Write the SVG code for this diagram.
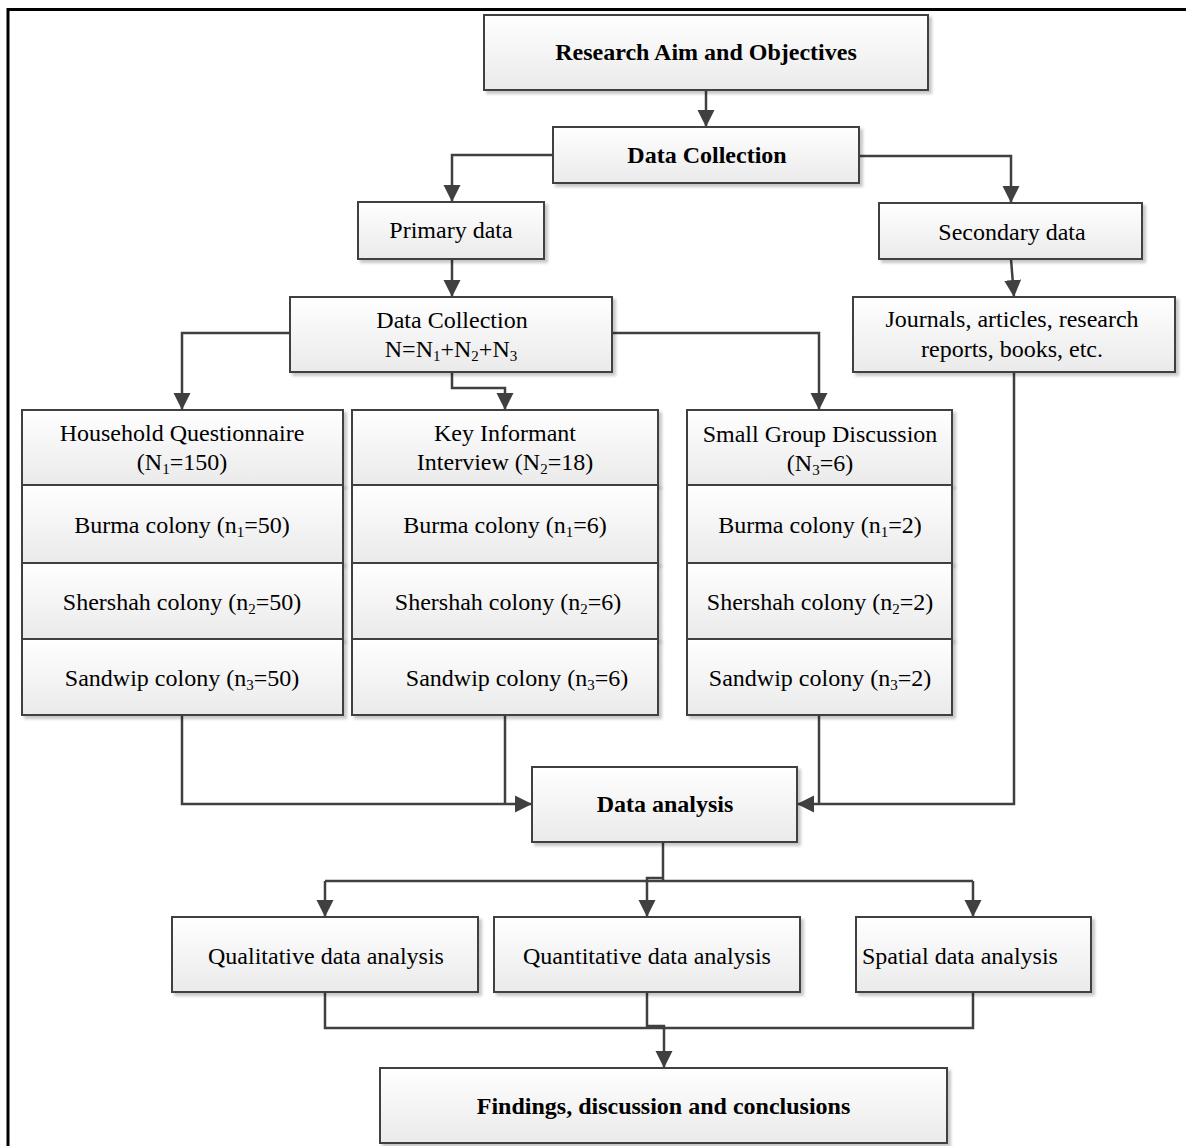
<svg xmlns="http://www.w3.org/2000/svg" width="1186" height="1146" viewBox="0 0 1186 1146">
<defs>
<linearGradient id="g" x1="0" y1="0" x2="0" y2="1"><stop offset="0" stop-color="#ffffff"/><stop offset="1" stop-color="#eaeaea"/></linearGradient>
<filter id="sh" x="-5%" y="-10%" width="115%" height="130%"><feDropShadow dx="3" dy="3" stdDeviation="1.5" flood-color="#000" flood-opacity="0.22"/></filter>
<marker id="ah" markerUnits="userSpaceOnUse" markerWidth="18" markerHeight="18" viewBox="0 0 18 18" refX="17" refY="9" orient="auto"><path d="M0,0.5 L17,9 L0,17.5 z" fill="#404040"/></marker>
</defs>
<style>
.box{fill:url(#g);stroke:#404040;stroke-width:2;filter:url(#sh)}
.t{font-family:"Liberation Serif","Times New Roman",serif;font-size:24px;fill:#000;text-anchor:middle}
.b{font-weight:bold}
.c{fill:none;stroke:#404040;stroke-width:2.5}
.a{marker-end:url(#ah)}
.sub{font-size:15px}
</style>
<rect x="0" y="0" width="1186" height="1146" fill="#fff"/>
<path d="M8,1146 V9.5 H1186" fill="none" stroke="#000" stroke-width="3"/>

<g id="connectors">
<path class="c a" d="M706,90 V127"/>
<path class="c a" d="M553,155 H452 V202"/>
<path class="c a" d="M859,156 H1011 V203"/>
<path class="c a" d="M452,259 V297"/>
<path class="c a" d="M1011,259 L1014,297"/>
<path class="c a" d="M290,333 H182 V410"/>
<path class="c a" d="M452,372 V388 H505 V410"/>
<path class="c a" d="M612,333 H819 V410"/>
<path class="c a" d="M182,715 V804 H532"/>
<path class="c" d="M505,715 V804"/>
<path class="c a" d="M1014,372 V804 H797"/>
<path class="c" d="M819,715 V804"/>
<path class="c" d="M663,842 V881"/>
<path class="c" d="M325,881 H973"/>
<path class="c a" d="M325,881 V917"/>
<path class="c a" d="M973,881 V917"/>
<path class="c a" d="M663,878 H647 V917"/>
<path class="c" d="M325,992 V1028 H973 V992"/>
<path class="c" d="M647,992 V1028"/>
<path class="c a" d="M647,1026 H664 V1068"/>
</g>

<g id="research"><rect class="box" x="484" y="15" width="444" height="75"/><text class="t b" x="706" y="60">Research Aim and Objectives</text></g>
<g id="datacollection"><rect class="box" x="553" y="127" width="306" height="56"/><text class="t b" x="707" y="163">Data Collection</text></g>
<g id="primary"><rect class="box" x="358" y="202" width="186" height="57"/><text class="t" x="451" y="238">Primary data</text></g>
<g id="secondary"><rect class="box" x="879" y="203" width="263" height="56"/><text class="t" x="1012" y="240">Secondary data</text></g>
<g id="datacollection2"><rect class="box" x="290" y="297" width="322" height="75"/><text class="t" x="452" y="328">Data Collection</text><text class="t" x="451" y="357">N=N<tspan class="sub" dy="4">1</tspan><tspan dy="-4">+N</tspan><tspan class="sub" dy="4">2</tspan><tspan dy="-4">+N</tspan><tspan class="sub" dy="4">3</tspan></text></g>
<g id="journals"><rect class="box" x="853" y="297" width="322" height="75"/><text class="t" x="1012" y="327">Journals, articles, research</text><text class="t" x="1012" y="357">reports, books, etc.</text></g>

<g id="hq-head"><rect class="box" x="22" y="410" width="321" height="75"/><text class="t" x="182" y="441">Household Questionnaire</text><text class="t" x="182" y="470">(N<tspan class="sub" dy="4">1</tspan><tspan dy="-4">=150)</tspan></text></g>
<g id="hq-burma"><rect class="box" x="22" y="485" width="321" height="78"/><text class="t" x="182" y="533">Burma colony (n<tspan class="sub" dy="4">1</tspan><tspan dy="-4">=50)</tspan></text></g>
<g id="hq-shershah"><rect class="box" x="22" y="563" width="321" height="76"/><text class="t" x="182" y="610">Shershah colony (n<tspan class="sub" dy="4">2</tspan><tspan dy="-4">=50)</tspan></text></g>
<g id="hq-sandwip"><rect class="box" x="22" y="639" width="321" height="76"/><text class="t" x="182" y="686">Sandwip colony (n<tspan class="sub" dy="4">3</tspan><tspan dy="-4">=50)</tspan></text></g>

<g id="ki-head"><rect class="box" x="352" y="410" width="306" height="75"/><text class="t" x="505" y="441">Key Informant</text><text class="t" x="505" y="470">Interview (N<tspan class="sub" dy="4">2</tspan><tspan dy="-4">=18)</tspan></text></g>
<g id="ki-burma"><rect class="box" x="352" y="485" width="306" height="78"/><text class="t" x="505" y="533">Burma colony (n<tspan class="sub" dy="4">1</tspan><tspan dy="-4">=6)</tspan></text></g>
<g id="ki-shershah"><rect class="box" x="352" y="563" width="306" height="76"/><text class="t" x="508" y="610">Shershah colony (n<tspan class="sub" dy="4">2</tspan><tspan dy="-4">=6)</tspan></text></g>
<g id="ki-sandwip"><rect class="box" x="352" y="639" width="306" height="76"/><text class="t" x="517" y="686">Sandwip colony (n<tspan class="sub" dy="4">3</tspan><tspan dy="-4">=6)</tspan></text></g>

<g id="sg-head"><rect class="box" x="687" y="410" width="265" height="75"/><text class="t" x="820" y="442">Small Group Discussion</text><text class="t" x="820" y="471">(N<tspan class="sub" dy="4">3</tspan><tspan dy="-4">=6)</tspan></text></g>
<g id="sg-burma"><rect class="box" x="687" y="485" width="265" height="78"/><text class="t" x="820" y="533">Burma colony (n<tspan class="sub" dy="4">1</tspan><tspan dy="-4">=2)</tspan></text></g>
<g id="sg-shershah"><rect class="box" x="687" y="563" width="265" height="76"/><text class="t" x="820" y="610">Shershah colony (n<tspan class="sub" dy="4">2</tspan><tspan dy="-4">=2)</tspan></text></g>
<g id="sg-sandwip"><rect class="box" x="687" y="639" width="265" height="76"/><text class="t" x="820" y="686">Sandwip colony (n<tspan class="sub" dy="4">3</tspan><tspan dy="-4">=2)</tspan></text></g>

<g id="dataanalysis"><rect class="box" x="532" y="767" width="265" height="75"/><text class="t b" x="665" y="812">Data analysis</text></g>
<g id="qualitative"><rect class="box" x="172" y="917" width="306" height="75"/><text class="t" x="326" y="964">Qualitative data analysis</text></g>
<g id="quantitative"><rect class="box" x="494" y="917" width="306" height="75"/><text class="t" x="647" y="964">Quantitative data analysis</text></g>
<g id="spatial"><rect class="box" x="856" y="917" width="235" height="75"/><text class="t" x="862" y="964" style="text-anchor:start">Spatial data analysis</text></g>
<g id="findings"><rect class="box" x="380" y="1068" width="567" height="75"/><text class="t b" x="663.5" y="1114">Findings, discussion and conclusions</text></g>
</svg>
